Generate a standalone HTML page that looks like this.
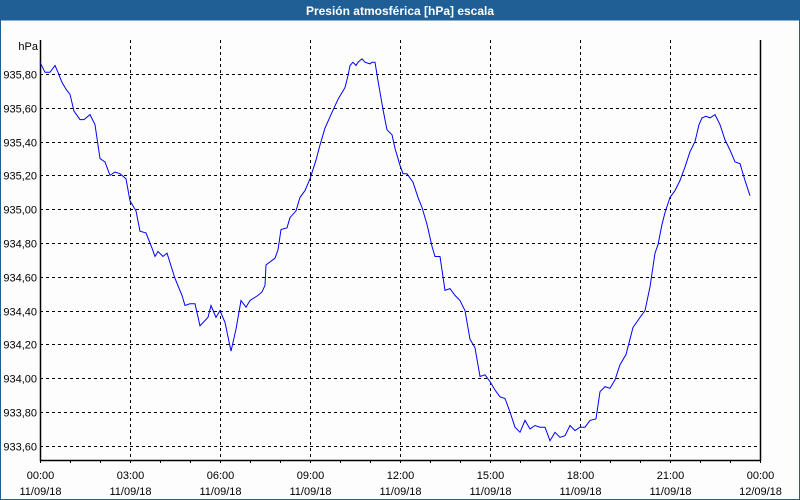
<!DOCTYPE html>
<html><head><meta charset="utf-8"><style>
html,body{margin:0;padding:0;background:#fff}
#wrap{position:relative;width:800px;height:500px;overflow:hidden;background:#fdfdfd;font-family:"Liberation Sans",sans-serif}
</style></head><body>
<div id="wrap">
<svg id="chart" width="800" height="500" style="position:absolute;left:0;top:0">
<rect x="0" y="0" width="800" height="20" fill="#1f5f96"/>
<text x="400" y="15" text-anchor="middle" font-size="12" font-weight="bold" fill="#fff" font-family="Liberation Sans, sans-serif">Presión atmosférica [hPa] escala</text>
<rect x="0.5" y="20" width="799" height="479.5" fill="none" stroke="#1f5f96" stroke-width="1"/>
<text x="38" y="50" text-anchor="end" font-size="11" fill="#000">hPa</text>
<g id="grid"></g><g id="axes"></g><g id="series"></g>
</svg>
</div>
<script>
const yTicks = [935.8,935.6,935.4,935.2,935.0,934.8,934.6,934.4,934.2,934.0,933.8,933.6];
const xTickHours = [0,3,6,9,12,15,18,21,24];
const xTimeLabels = ["00:00","03:00","06:00","09:00","12:00","15:00","18:00","21:00","00:00"];
const xDateLabels = ["11/09/18","11/09/18","11/09/18","11/09/18","11/09/18","11/09/18","11/09/18","11/09/18","12/09/18"];
const times = [0,10,20,30,36,44,52,60,68,80,88,100,110,120,130,140,150,160,172,180,192,200,212,224,230,236,246,254,270,284,290,300,310,320,336,342,352,360,370,382,392,402,412,420,436,444,450,452,470,476,482,494,500,512,520,530,540,552,560,570,582,596,610,616,620,626,632,636,644,650,660,664,670,676,686,694,704,710,720,726,734,746,756,764,774,784,790,800,810,820,830,840,850,860,870,880,890,900,910,920,930,940,950,960,970,980,990,1000,1010,1020,1030,1040,1050,1060,1070,1080,1090,1100,1112,1120,1130,1140,1150,1160,1172,1186,1200,1210,1220,1230,1236,1244,1250,1260,1270,1280,1290,1300,1310,1318,1324,1332,1340,1350,1360,1370,1380,1390,1400,1410,1420];
const pressure = [935.87,935.81,935.81,935.85,935.81,935.75,935.71,935.68,935.58,935.53,935.53,935.56,935.50,935.30,935.28,935.20,935.22,935.21,935.18,935.05,934.99,934.87,934.86,934.77,934.72,934.75,934.72,934.74,934.59,934.49,934.43,934.44,934.44,934.31,934.36,934.43,934.36,934.40,934.33,934.16,934.29,934.46,934.42,934.46,934.49,934.51,934.55,934.67,934.71,934.76,934.88,934.89,934.95,934.99,935.07,935.11,935.18,935.29,935.38,935.48,935.56,935.65,935.72,935.79,935.85,935.87,935.85,935.87,935.89,935.87,935.86,935.87,935.87,935.76,935.59,935.47,935.44,935.36,935.26,935.21,935.21,935.16,935.07,935.01,934.91,934.78,934.72,934.72,934.52,934.53,934.49,934.46,934.40,934.23,934.18,934.01,934.02,933.98,933.93,933.89,933.88,933.80,933.71,933.68,933.75,933.70,933.72,933.71,933.71,933.63,933.68,933.65,933.66,933.72,933.69,933.71,933.71,933.75,933.76,933.92,933.95,933.94,933.99,934.08,934.14,934.30,934.36,934.40,934.54,934.74,934.79,934.91,934.98,935.07,935.11,935.17,935.25,935.34,935.40,935.50,935.54,935.55,935.54,935.56,935.50,935.41,935.35,935.28,935.27,935.17,935.08];

const NS="http://www.w3.org/2000/svg";
const L=40,R=760,T=40,B=460;
function xScale(min){return L+(min/1440)*(R-L);}
function yScale(v){return 74+(935.8-v)*169;}
function mk(tag,attrs,parent){const e=document.createElementNS(NS,tag);for(const k in attrs)e.setAttribute(k,attrs[k]);parent.appendChild(e);return e;}
const grid=document.getElementById('grid'),axes=document.getElementById('axes'),series=document.getElementById('series');
yTicks.forEach(v=>{
  const y=Math.round(yScale(v))+0.5;
  const ln=mk('line',{x1:L,x2:R,y1:y,y2:y,stroke:'#000','stroke-dasharray':'3,3','stroke-width':1},grid);
  
  
  const t=mk('text',{x:37,y:y+4,'text-anchor':'end','font-size':11,fill:'#000'},axes);
  t.textContent=v.toFixed(2).replace('.',',');
  
  
});
xTickHours.forEach((h,i)=>{
  const x=Math.round(xScale(h*60))+0.5;
  if(h>0&&h<24){
    const ln=mk('line',{x1:x,x2:x,y1:T,y2:B,stroke:'#000','stroke-dasharray':'3,3','stroke-width':1},grid);
    
    
  }
  const t1=mk('text',{x:x,y:479,'text-anchor':'middle','font-size':11,fill:'#000'},axes);
  t1.textContent=xTimeLabels[i];
  
  
  const t2=mk('text',{x:x,y:495,'text-anchor':'middle','font-size':11,fill:'#000'},axes);
  t2.textContent=xDateLabels[i];
  
  
});
for(let h=0;h<=24;h++){
  const x=Math.round(xScale(h*60))+0.5;
  const tk=mk('line',{x1:x,x2:x,y1:B,y2:B+3,stroke:'#000'},axes);
  
  
}
const ax=mk('path',{d:`M${L+0.5},${T} V${B+0.5} H${R+0.5} V${T}`,fill:'none',stroke:'#000','stroke-width':1.5},axes);


const d=times.map((t,i)=>(i?'L':'M')+xScale(t).toFixed(1)+','+yScale(pressure[i]).toFixed(1)).join(' ');
const p=mk('path',{d:d,fill:'none',stroke:'#0000ff','stroke-width':1},series);


</script>
</body></html>
